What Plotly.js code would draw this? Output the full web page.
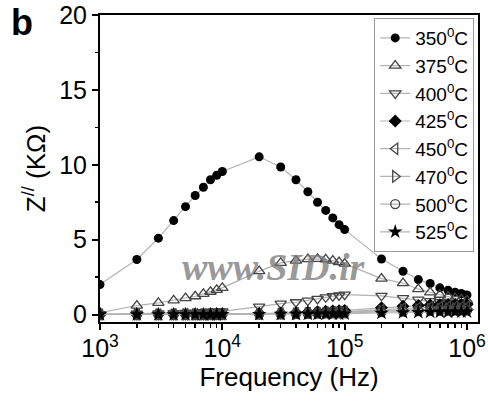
<!DOCTYPE html>
<html>
<head>
<meta charset="utf-8">
<script src="https://cdn.plot.ly/plotly-3.0.1.min.js"></script>
<style>
html,body{margin:0;padding:0;background:#fff;}
#chart{width:488px;height:404px;}
</style>
</head>
<body>
<div id="chart"></div>
<script>
const FREQ = [1e3,2e3,3e3,4e3,5e3,6e3,7e3,8e3,9e3,
              1e4,2e4,3e4,4e4,5e4,6e4,7e4,8e4,9e4,
              1e5,2e5,3e5,4e5,5e5,6e5,7e5,8e5,9e5,1e6];
const SERIES_NAMES = ['350<sup>0</sup>C','375<sup>0</sup>C','400<sup>0</sup>C','425<sup>0</sup>C',
                      '450<sup>0</sup>C','470<sup>0</sup>C','500<sup>0</sup>C','525<sup>0</sup>C'];
const Z350 = [2.0,3.67,5.1,6.27,7.2,7.95,8.5,9.0,9.3,
              9.55,10.53,9.85,9.0,8.2,7.5,6.95,6.45,6.0,
              5.67,3.71,2.89,2.33,2.07,1.78,1.62,1.49,1.4,1.31];
const Z375 = [0.12,0.6,0.78,0.95,1.1,1.22,1.38,1.52,1.65,
              1.78,2.9,3.45,3.6,3.7,3.72,3.68,3.6,3.5,
              3.4,2.4,2.1,1.7,1.48,1.32,1.2,1.1,1.02,0.95];
const Z400 = [0.03,0.05,0.07,0.09,0.11,0.13,0.15,0.17,0.19,
              0.21,0.53,0.73,0.82,0.93,1.04,1.15,1.22,1.27,
              1.33,1.25,1.1,1.0,0.9,0.82,0.76,0.7,0.65,0.6];
const Z425 = [0.01,0.01,0.01,0.02,0.02,0.02,0.02,0.03,0.03,
              0.03,0.06,0.09,0.12,0.15,0.18,0.21,0.23,0.25,
              0.27,0.45,0.55,0.6,0.63,0.65,0.66,0.67,0.67,0.67];
const Z450 = [0.0,0.0,0.0,0.01,0.01,0.01,0.01,0.01,0.02,
              0.02,0.04,0.06,0.08,0.1,0.12,0.14,0.15,0.17,
              0.18,0.32,0.4,0.45,0.48,0.5,0.51,0.52,0.52,0.52];
const Z470 = [0.0,0.0,0.0,0.0,0.01,0.01,0.01,0.01,0.01,
              0.01,0.03,0.05,0.06,0.08,0.09,0.1,0.11,0.12,
              0.13,0.24,0.3,0.34,0.36,0.37,0.38,0.39,0.39,0.39];
const Z500 = [0.0,0.0,0.0,0.0,0.0,0.0,0.01,0.01,0.01,
              0.01,0.02,0.03,0.04,0.05,0.06,0.07,0.07,0.08,
              0.08,0.16,0.2,0.23,0.25,0.26,0.27,0.27,0.28,0.28];
const Z525 = [0.0,0.0,0.0,0.0,0.0,0.0,0.0,0.0,0.0,
              0.01,0.01,0.02,0.02,0.03,0.03,0.04,0.04,0.04,
              0.05,0.1,0.13,0.15,0.16,0.17,0.17,0.18,0.18,0.18];
const X_TICKVALS = [1e3,1e4,1e5,1e6];
const X_TICKTEXT = ['10<sup>3</sup>','10<sup>4</sup>','10<sup>5</sup>','10<sup>6</sup>'];

const ALL_Z = [Z350,Z375,Z400,Z425,Z450,Z470,Z500,Z525];
const SYMBOLS = ['circle','triangle-up-open','triangle-down-open','diamond',
                 'triangle-left-open','triangle-right-open','circle-open','star'];
const SIZES = [9,10,10,10,10,10,9,11];
const filled = [true,false,false,true,false,false,false,true];

const traces = ALL_Z.map((z,i)=>({
  x: FREQ, y: z, name: SERIES_NAMES[i], type:'scatter', mode:'lines+markers',
  line:{color:'#b3b3b3', width:1.2},
  marker:{symbol:SYMBOLS[i], size:SIZES[i],
          color: filled[i] ? '#000' : '#444',
          line:{color: filled[i] ? '#000' : '#444', width: filled[i]?0:1.3}}
}));

const FONT = 'Liberation Sans, Arial, sans-serif';
const layout = {
  width:488, height:404,
  margin:{l:100, r:10, t:15, b:82},
  paper_bgcolor:'#fff', plot_bgcolor:'#fff',
  font:{family:FONT, color:'#000'},
  showlegend:true,
  legend:{x:0.99, xanchor:'right', y:0.99, yanchor:'top',
          bgcolor:'#fff', bordercolor:'#999', borderwidth:1,
          font:{family:FONT, size:19, color:'#000'}},
  xaxis:{type:'log', range:[3,6.09],
         tickmode:'array', tickvals:X_TICKVALS, ticktext:X_TICKTEXT,
         ticks:'outside', ticklen:6, tickwidth:2, tickcolor:'#000',
         ticklabelstandoff:-3,
         minor:{tickmode:'array', tickvals:FREQ, ticks:'outside', ticklen:4, tickwidth:1.5, tickcolor:'#000', showgrid:false},
         showline:true, linecolor:'#000', linewidth:2, mirror:true,
         showgrid:false, zeroline:false,
         tickfont:{family:FONT, size:25},
         title:{text:'Frequency (Hz)', font:{family:FONT, size:26}, standoff:6}},
  yaxis:{range:[-0.5,20], tickmode:'linear', tick0:0, dtick:5,
         ticks:'outside', ticklen:6, tickwidth:2, tickcolor:'#000',
         minor:{dtick:2.5, ticks:'outside', ticklen:3, tickwidth:1.5, tickcolor:'#000', showgrid:false},
         showline:true, linecolor:'#000', linewidth:2, mirror:true,
         showgrid:false, zeroline:false,
         tickfont:{family:FONT, size:25},
         title:{text:'Z<sup>//</sup> (KΩ)', font:{family:FONT, size:26}, standoff:6}},
  annotations:[
    {text:'<b>b</b>', xref:'paper', yref:'paper', x:-0.24, y:1.05,
     xanchor:'left', yanchor:'top', showarrow:false,
     font:{family:FONT, size:36, color:'#000'}},
    {text:'<i><b>www.SID.ir</b></i>', xref:'paper', yref:'paper', x:0.46, y:0.18,
     xanchor:'center', yanchor:'middle', showarrow:false,
     font:{family:'Liberation Serif, Times New Roman, serif', size:38, color:'rgba(120,120,120,0.75)'}}
  ]
};
Plotly.newPlot('chart', traces, layout, {displayModeBar:false, staticPlot:true});
</script>
</body>
</html>
